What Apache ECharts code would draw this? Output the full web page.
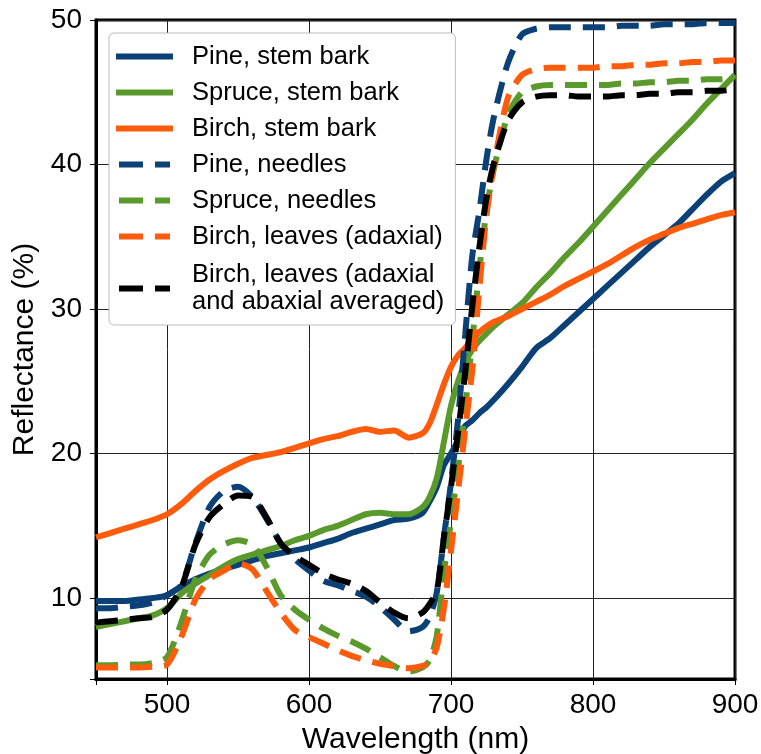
<!DOCTYPE html>
<html>
<head>
<meta charset="utf-8">
<script src="https://cdn.jsdelivr.net/npm/echarts@6/dist/echarts.min.js"></script>
<style>
  html, body { margin: 0; padding: 0; background: #fff; }
  #main { width: 761px; height: 754px; }
</style>
</head>
<body>
<div id="main"></div>
<script>
// wavelength grid (nm)
var wl = [450, 460, 470, 480, 490, 500, 510, 520, 530, 540, 550, 560, 570, 580, 590, 600, 610, 620, 630, 640,
  650, 660, 670, 680, 685, 690, 695, 700, 705, 710, 715, 720, 725, 730, 740, 750, 760, 770, 780, 790,
  800, 810, 820, 830, 840, 850, 860, 870, 880, 890, 900];

// reflectance (%)
var pineBark = [9.8, 9.8, 9.8, 9.9, 10.0, 10.2, 10.8, 11.3, 11.7, 12.0, 12.3, 12.6, 12.9, 13.1, 13.3, 13.5, 13.8, 14.1, 14.5, 14.8,
  15.1, 15.4, 15.5, 15.9, 16.7, 17.7, 19.2, 20.0, 20.9, 21.9, 22.3, 22.8, 23.2, 23.7, 24.8, 26.0, 27.3, 28.0, 28.9, 29.8,
  30.7, 31.6, 32.5, 33.4, 34.3, 35.1, 35.9, 36.9, 37.9, 38.8, 39.4];
var spruceBark = [8.0, 8.2, 8.4, 8.6, 8.8, 9.3, 10.3, 11.0, 11.6, 12.2, 12.7, 13.0, 13.3, 13.6, 14.0, 14.3, 14.7, 15.0, 15.4, 15.8,
  15.9, 15.8, 15.8, 16.3, 17.0, 18.3, 20.8, 23.3, 25.0, 26.3, 27.2, 27.8, 28.3, 28.8, 29.6, 30.4, 31.5, 32.5, 33.6, 34.6,
  35.7, 36.8, 37.9, 39.0, 40.1, 41.1, 42.1, 43.1, 44.2, 45.2, 46.2];
var birchBark = [14.2, 14.5, 14.8, 15.1, 15.4, 15.8, 16.5, 17.4, 18.2, 18.8, 19.3, 19.7, 19.9, 20.1, 20.4, 20.7, 21.0, 21.2, 21.5, 21.7,
  21.5, 21.6, 21.1, 21.4, 22.1, 23.4, 24.8, 26.0, 26.8, 27.3, 27.9, 28.4, 28.8, 29.1, 29.5, 30.0, 30.5, 31.0, 31.6, 32.1,
  32.6, 33.1, 33.7, 34.3, 34.8, 35.2, 35.6, 35.9, 36.2, 36.5, 36.7];
var pineNeedles = [9.3, 9.3, 9.4, 9.5, 9.7, 10.2, 10.9, 13.8, 16.3, 17.4, 17.7, 17.0, 15.5, 13.8, 12.7, 11.9, 11.2, 10.9, 10.5, 10.1,
  9.4, 8.5, 7.7, 8.0, 8.7, 10.4, 14.2, 18.0, 22.4, 28.2, 33.7, 36.8, 40.4, 43.2, 47.0, 49.0, 49.4, 49.5, 49.5, 49.5,
  49.5, 49.5, 49.6, 49.6, 49.6, 49.7, 49.7, 49.7, 49.8, 49.8, 49.8];
var spruceNeedles = [5.35, 5.35, 5.4, 5.4, 5.5, 5.9, 8.3, 11.3, 13.0, 13.7, 14.0, 13.7, 12.2, 10.2, 9.2, 8.5, 7.9, 7.4, 7.0, 6.5,
  5.9, 5.3, 4.9, 5.2, 5.7, 7.4, 11.8, 15.3, 19.0, 23.2, 27.8, 32.8, 36.8, 39.6, 43.4, 45.0, 45.4, 45.5, 45.5, 45.5,
  45.5, 45.5, 45.6, 45.6, 45.7, 45.7, 45.8, 45.8, 45.9, 45.9, 46.0];
var birchLeaves = [5.2, 5.2, 5.2, 5.2, 5.25, 5.4, 7.3, 9.9, 11.3, 11.9, 12.4, 12.0, 10.5, 9.0, 7.8, 7.3, 6.85, 6.4, 6.0, 5.7,
  5.45, 5.3, 5.15, 5.3, 5.6, 6.6, 9.3, 13.3, 17.4, 21.7, 25.8, 31.5, 36.5, 39.8, 44.6, 46.2, 46.6, 46.7, 46.7, 46.7,
  46.7, 46.8, 46.8, 46.9, 46.9, 47.0, 47.0, 47.1, 47.1, 47.2, 47.2];
var birchAvg = [8.3, 8.4, 8.5, 8.6, 8.7, 9.2, 10.7, 13.7, 15.6, 16.5, 17.1, 17.0, 15.6, 13.8, 12.9, 12.3, 11.7, 11.3, 11.0, 10.5,
  9.7, 9.0, 8.6, 9.0, 9.6, 10.5, 14.2, 17.7, 21.5, 25.6, 30.2, 34.3, 37.7, 40.0, 43.0, 44.3, 44.7, 44.8, 44.8, 44.7,
  44.7, 44.7, 44.8, 44.8, 44.9, 44.9, 45.0, 45.0, 45.1, 45.1, 45.2];

var xTicks = [500, 600, 700, 800, 900];
var yTicks = [10, 20, 30, 40, 50];

var seriesNames = ["Pine, stem bark", "Spruce, stem bark", "Birch, stem bark", "Pine, needles",
  "Spruce, needles", "Birch, leaves (adaxial)", "Birch, leaves (adaxial\nand abaxial averaged)"];
var seriesData = [pineBark, spruceBark, birchBark, pineNeedles, spruceNeedles, birchLeaves, birchAvg];
var seriesColors = ["#0b4176", "#5a9a2d", "#ff5b0c", "#0b4176", "#5a9a2d", "#ff5b0c", "#000000"];
var dashed = [false, false, false, true, true, true, true];

// legend handles: a solid bar or two dashes
var solidIcon = "path://M0,0H57V6H0Z";
var dashIcon = "path://M0,0H24V6H0Z M36,0H51V6H36Z";

function pairs(vals) {
  return wl.map(function (w, i) { return [w, vals[i]]; });
}

var font = "Liberation Sans, Arial, sans-serif";

var myChart = echarts.init(document.getElementById("main"));

var series = seriesNames.map(function (name, i) {
  return {
    name: name,
    type: "line",
    symbol: "none",
    smooth: 0.25,
    data: pairs(seriesData[i]),
    lineStyle: {
      color: seriesColors[i],
      width: 6,
      type: dashed[i] ? [22, 12] : "solid"
    },
    itemStyle: { color: seriesColors[i] },
    z: 3 + i
  };
});

var legendData = seriesNames.map(function (name, i) {
  var item = { name: name, icon: dashed[i] ? dashIcon : solidIcon };
  if (i === seriesNames.length - 1) {
    item.textStyle = { padding: [5, 0, 0, 14] };
  }
  return item;
});

myChart.setOption({
  animation: false,
  grid: {
    left: 96,
    right: 26,
    top: 20,
    bottom: 75,
    outerBoundsMode: "none",
    containLabel: false,
    show: true,
    borderColor: "#000",
    borderWidth: 3,
    backgroundColor: "#fff"
  },
  legend: {
    orient: "vertical",
    left: 109,
    top: 33,
    padding: [10, 11, 7, 7],
    backgroundColor: "#fff",
    borderColor: "#bbb",
    borderWidth: 1,
    borderRadius: 5,
    itemWidth: 57,
    itemHeight: 6,
    itemGap: 9,
    textStyle: {
      fontFamily: font,
      fontSize: 25.5,
      lineHeight: 27,
      color: "#000",
      padding: [0, 0, 0, 14]
    },
    data: legendData
  },
  xAxis: {
    type: "value",
    min: 450,
    max: 900,
    name: "Wavelength (nm)",
    nameLocation: "middle",
    nameGap: 46,
    nameTextStyle: { fontFamily: font, fontSize: 30, color: "#000" },
    axisLine: { show: true, lineStyle: { color: "#000", width: 3 } },
    axisTick: { show: true, length: 6, lineStyle: { color: "#000", width: 1 } },
    axisLabel: {
      fontFamily: font,
      fontSize: 28,
      color: "#000",
      margin: 12,
      formatter: function (v) { return xTicks.indexOf(v) >= 0 ? String(v) : ""; }
    },
    splitLine: { show: true, lineStyle: { color: "#222", width: 1 } }
  },
  yAxis: {
    type: "value",
    min: 4.4,
    max: 50,
    name: "Reflectance (%)",
    nameLocation: "middle",
    nameGap: 51,
    nameTextStyle: { fontFamily: font, fontSize: 30, color: "#000" },
    axisLine: { show: true, lineStyle: { color: "#000", width: 3 } },
    axisTick: { show: true, length: 6, lineStyle: { color: "#000", width: 1 } },
    axisLabel: {
      fontFamily: font,
      fontSize: 28,
      color: "#000",
      margin: 14,
      formatter: function (v) { return yTicks.indexOf(v) >= 0 ? String(v) : ""; }
    },
    splitLine: { show: true, lineStyle: { color: "#222", width: 1 } }
  },
  series: series
});
</script>
</body>
</html>
